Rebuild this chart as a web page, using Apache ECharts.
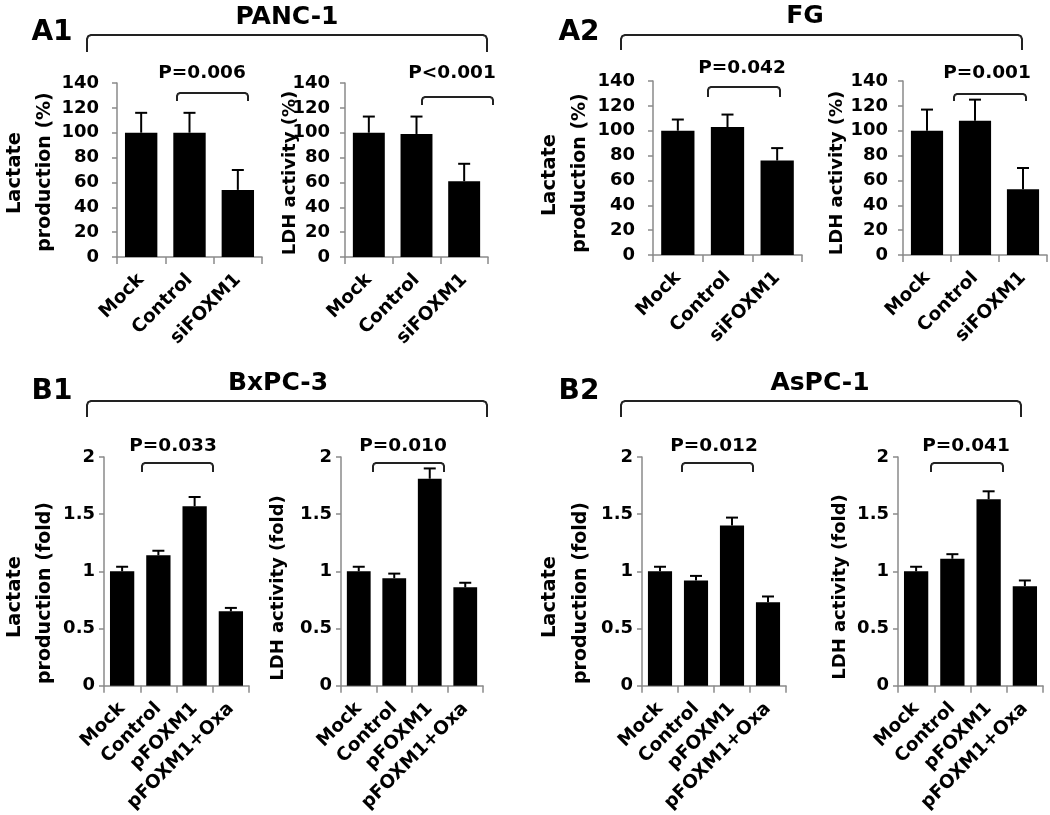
<!DOCTYPE html>
<html><head><meta charset="utf-8">
<script src="https://cdn.jsdelivr.net/npm/echarts@6/dist/echarts.min.js"></script>
<style>html,body{margin:0;padding:0;background:#fff}#c{width:1050px;height:815px}</style>
</head><body><div id="c"></div>
<script>
// ---- data ----
const catsA = ['Mock', 'Control', 'siFOXM1'];
const catsB = ['Mock', 'Control', 'pFOXM1', 'pFOXM1+Oxa'];
const ticksA = [0, 20, 40, 60, 80, 100, 120, 140];
const ticksB = [0, 0.5, 1, 1.5, 2];

const a1LactMean = [100, 100, 54];
const a1LactErr  = [16, 16, 16];
const a1LdhMean  = [100, 99, 61];
const a1LdhErr   = [13, 14, 14];

const a2LactMean = [100, 103, 76];
const a2LactErr  = [9, 10, 10];
const a2LdhMean  = [100, 108, 53];
const a2LdhErr   = [17, 17, 17];

const b1LactMean = [1.0, 1.14, 1.57, 0.65];
const b1LactErr  = [0.04, 0.04, 0.08, 0.03];
const b1LdhMean  = [1.0, 0.94, 1.81, 0.86];
const b1LdhErr   = [0.04, 0.04, 0.09, 0.04];

const b2LactMean = [1.0, 0.92, 1.40, 0.73];
const b2LactErr  = [0.04, 0.04, 0.07, 0.05];
const b2LdhMean  = [1.0, 1.11, 1.63, 0.87];
const b2LdhErr   = [0.04, 0.04, 0.07, 0.05];

const pLabels = ['P=0.006', 'P<0.001', 'P=0.042', 'P=0.001', 'P=0.033', 'P=0.010', 'P=0.012', 'P=0.041'];
const cellLines = ['PANC-1', 'FG', 'BxPC-3', 'AsPC-1'];
const panelTags = ['A1', 'A2', 'B1', 'B2'];

// ---- layout ----
const FONT = '"DejaVu Sans", "Liberation Sans", sans-serif';
const AXC = '#8a8a8a';
const panels = [
  {cats: catsA, mean: a1LactMean, err: a1LactErr, ticks: ticksA, grid: {left: 117, top: 83, width: 145, height: 174}, margin: 18},
  {cats: catsA, mean: a1LdhMean,  err: a1LdhErr,  ticks: ticksA, grid: {left: 345, top: 83, width: 143, height: 174}, margin: 15},
  {cats: catsA, mean: a2LactMean, err: a2LactErr, ticks: ticksA, grid: {left: 653, top: 81, width: 149, height: 174}, margin: 18},
  {cats: catsA, mean: a2LdhMean,  err: a2LdhErr,  ticks: ticksA, grid: {left: 903, top: 81, width: 144, height: 174}, margin: 15},
  {cats: catsB, mean: b1LactMean, err: b1LactErr, ticks: ticksB, grid: {left: 104, top: 457, width: 145, height: 229}, margin: 9},
  {cats: catsB, mean: b1LdhMean,  err: b1LdhErr,  ticks: ticksB, grid: {left: 341, top: 457, width: 142, height: 229}, margin: 9},
  {cats: catsB, mean: b2LactMean, err: b2LactErr, ticks: ticksB, grid: {left: 642, top: 457, width: 144, height: 229}, margin: 9},
  {cats: catsB, mean: b2LdhMean,  err: b2LdhErr,  ticks: ticksB, grid: {left: 898, top: 457, width: 145, height: 229}, margin: 9}
];

const grids = [], xAxes = [], yAxes = [], series = [];
panels.forEach((p, k) => {
  grids.push(Object.assign({containLabel: false}, p.grid));
  xAxes.push({
    type: 'category', gridIndex: k, data: p.cats,
    axisLine: {lineStyle: {color: AXC, width: 1.5}},
    axisTick: {show: true, length: 7, lineStyle: {color: AXC, width: 1.5}},
    axisLabel: {interval: 0, rotate: 45, margin: 20, color: '#000', fontFamily: FONT, fontWeight: 'bold', fontSize: 18.5}
  });
  const iv = p.ticks[1] - p.ticks[0];
  yAxes.push({
    type: 'value', gridIndex: k, min: p.ticks[0], max: p.ticks[p.ticks.length - 1], interval: iv,
    axisLine: {show: true, lineStyle: {color: AXC, width: 1.5}},
    axisTick: {show: true, length: 5, lineStyle: {color: AXC, width: 1.5}},
    splitLine: {show: false},
    axisLabel: {margin: p.margin, color: '#000', fontFamily: FONT, fontWeight: 'bold', fontSize: 18}
  });
  series.push({
    type: 'bar', xAxisIndex: k, yAxisIndex: k, data: p.mean,
    barCategoryGap: '33%', itemStyle: {color: '#000'}, silent: true
  });
  series.push({
    type: 'custom', xAxisIndex: k, yAxisIndex: k,
    data: p.mean.map((m, i) => [i, m, p.err[i]]),
    encode: {x: 0, y: 1},
    renderItem: function (params, api) {
      const i = api.value(0), m = api.value(1), e = api.value(2);
      const a = api.coord([i, m]);
      const b = api.coord([i, m + e]);
      return {type: 'group', children: [
        {type: 'line', shape: {x1: a[0], y1: a[1], x2: b[0], y2: b[1]}, style: {stroke: '#000', lineWidth: 2}},
        {type: 'line', shape: {x1: b[0] - 6, y1: b[1], x2: b[0] + 6, y2: b[1]}, style: {stroke: '#000', lineWidth: 2}}
      ]};
    },
    z: 5, silent: true
  });
});

// ---- annotations ----
const graphic = [];
function txt(x, y, text, size, rot) {
  graphic.push({type: 'text', x: x, y: y, rotation: rot || 0, silent: true,
    style: {text: text, fill: '#000', font: 'bold ' + size + 'px ' + FONT, align: 'center', verticalAlign: 'middle'}});
}
function bracket(x1, x2, yt, yb, r) {
  const c = 0.3 * r;
  graphic.push({type: 'polyline', silent: true,
    shape: {points: [[x1, yb], [x1, yt + r], [x1 + c, yt + c], [x1 + r, yt], [x2 - r, yt], [x2 - c, yt + c], [x2, yt + r], [x2, yb]]},
    style: {stroke: '#222', lineWidth: 2, fill: null, lineJoin: 'round'}});
}
// panel tags
txt(52, 33, panelTags[0], 28); txt(579, 33, panelTags[1], 28);
txt(52, 392, panelTags[2], 28); txt(579, 392, panelTags[3], 28);
// cell-line titles and big brackets
txt(287, 17, cellLines[0], 25); bracket(87, 487, 35, 52, 4);
txt(805, 16, cellLines[1], 25); bracket(621, 1022, 35, 50, 4);
txt(278, 383, cellLines[2], 25); bracket(87, 487, 401, 417, 4);
txt(820, 383, cellLines[3], 25); bracket(621, 1021, 401, 417, 4);
// p-value brackets
txt(202, 73, pLabels[0], 18.5); bracket(177, 248, 93, 101, 3);
txt(452, 73, pLabels[1], 18.5); bracket(422, 493, 97, 105, 3);
txt(742, 68, pLabels[2], 18.5); bracket(708, 780, 87, 97, 3);
txt(987, 73, pLabels[3], 18.5); bracket(954, 1026, 94, 101, 3);
txt(173, 446, pLabels[4], 18.5); bracket(142, 213, 463, 472, 3);
txt(403, 446, pLabels[5], 18.5); bracket(373, 444, 463, 472, 3);
txt(714, 446, pLabels[6], 18.5); bracket(682, 753, 463, 472, 3);
txt(966, 446, pLabels[7], 18.5); bracket(931, 1003, 463, 472, 3);
// y-axis titles
const R = Math.PI / 2;
txt(15, 173, 'Lactate', 19.5, R); txt(45, 172, 'production (%)', 19, R);
txt(290, 173, 'LDH activity (%)', 18, R);
txt(550, 175, 'Lactate', 19.5, R); txt(580, 173, 'production (%)', 19, R);
txt(837, 173, 'LDH activity (%)', 18, R);
txt(15, 597, 'Lactate', 19.5, R); txt(45, 593, 'production (fold)', 19, R);
txt(278, 588, 'LDH activity (fold)', 18, R);
txt(550, 597, 'Lactate', 19.5, R); txt(581, 593, 'production (fold)', 19, R);
txt(840, 587, 'LDH activity (fold)', 18, R);

const chart = echarts.init(document.getElementById('c'), null, {renderer: 'canvas'});
chart.setOption({
  backgroundColor: '#fff',
  animation: false,
  grid: grids, xAxis: xAxes, yAxis: yAxes, series: series,
  graphic: graphic
});
</script></body></html>
